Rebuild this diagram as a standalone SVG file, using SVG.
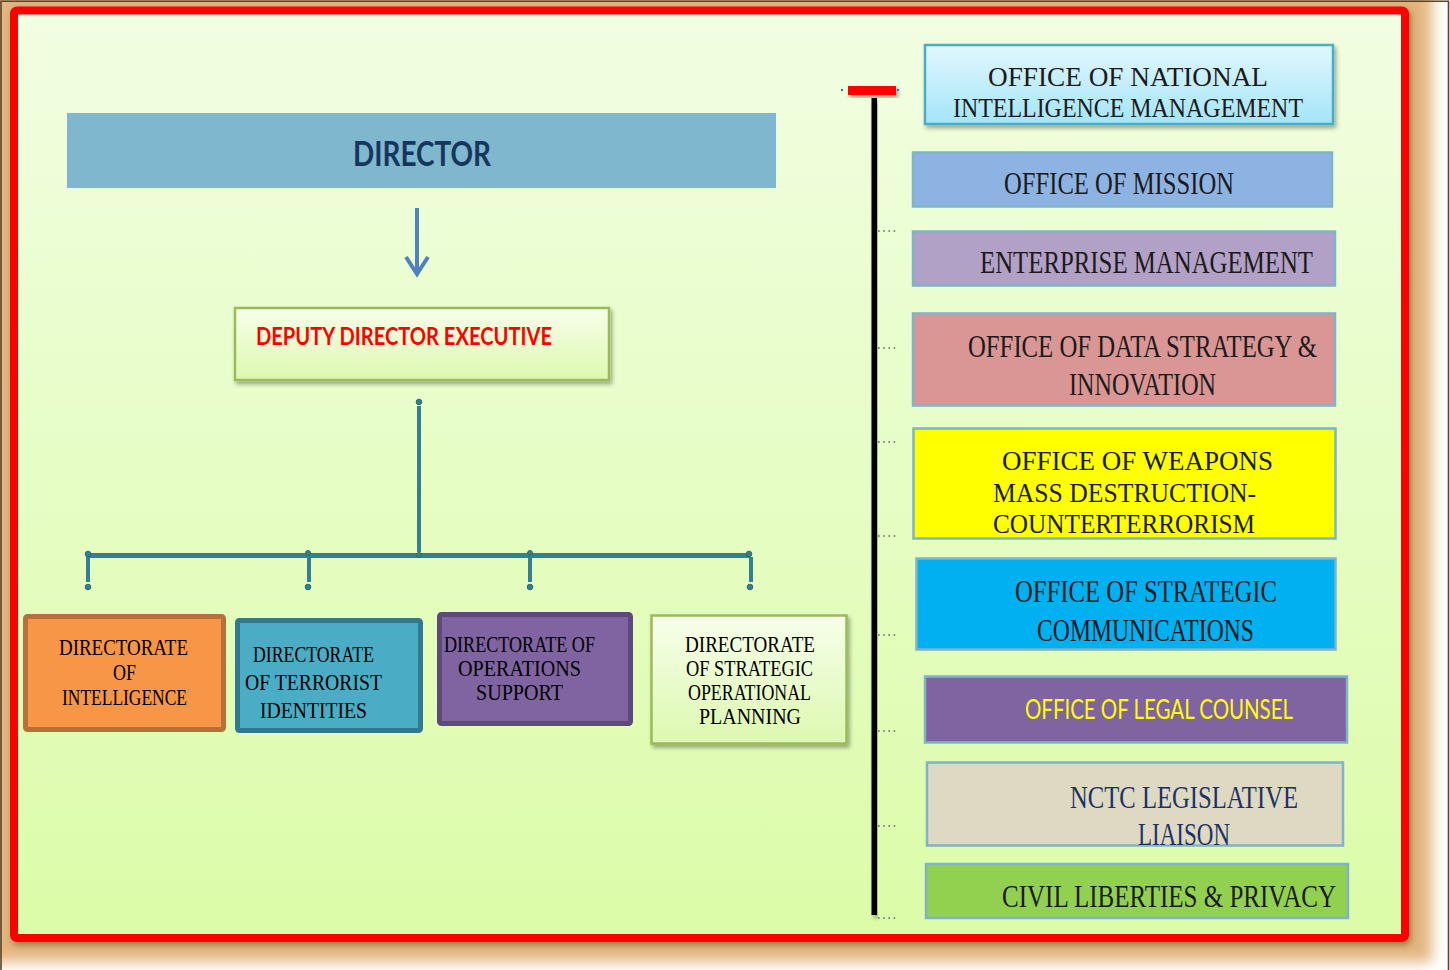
<svg xmlns="http://www.w3.org/2000/svg" width="1450" height="970" viewBox="0 0 1450 970">
  <defs>
    <linearGradient id="panel" x1="0" y1="0" x2="0" y2="1">
      <stop offset="0" stop-color="#F1FEE2"/>
      <stop offset="1" stop-color="#DCFCA8"/>
    </linearGradient>
    <linearGradient id="paleGreen" x1="0" y1="0" x2="0" y2="1">
      <stop offset="0" stop-color="#F6FFEA"/>
      <stop offset="1" stop-color="#DDF8B0"/>
    </linearGradient>
    <linearGradient id="paleCyan" x1="0" y1="0" x2="0" y2="1">
      <stop offset="0" stop-color="#E2F7FE"/>
      <stop offset="1" stop-color="#A3E5F8"/>
    </linearGradient>
    <filter id="soft" x="-5%" y="-5%" width="110%" height="110%">
      <feGaussianBlur stdDeviation="7"/>
    </filter>
    <filter id="shadow" x="-10%" y="-20%" width="120%" height="150%">
      <feDropShadow dx="2" dy="3" stdDeviation="2" flood-color="#000" flood-opacity="0.35"/>
    </filter>
    <filter id="frameShadow" x="-5%" y="-5%" width="110%" height="110%">
      <feDropShadow dx="2" dy="3" stdDeviation="3" flood-color="#6B3F10" flood-opacity="0.55"/>
    </filter>
    <style>
      .serif { font-family: "Liberation Serif", "Times New Roman", serif; fill: #1C1A1A; }
      .sans { font-family: Lato, "Open Sans", "Liberation Sans", sans-serif; font-weight: bold; }
      .dir { font-size: 23px; fill: #000; }
      .off { font-size: 31px; }
      .tight { font-size: 28px; }
      .navy { fill: #1F3167; }
      .tree { stroke: #357F93; fill: none; }
      .knob { fill: #357F93; stroke: #2A6878; stroke-width: 1; }
      .tick { stroke: #666; stroke-width: 1.6; stroke-dasharray: 1.6 3.6; }
      .tickEnd { fill: #2E75B6; }
      .officeBox { stroke: #7FB3C8; stroke-width: 2.5; }
    </style>
  </defs>

  <!-- page backdrop -->
  <rect x="0" y="0" width="1450" height="970" fill="#FFFFFF"/>
  <rect x="-20" y="-20" width="1452" height="982" fill="#E3B57F" filter="url(#soft)"/>
  <rect x="0" y="0" width="1420" height="945" fill="#E3B57F"/>
  <path d="M1 970 V1.2 H1448.5 V970" fill="none" stroke="#5A4428" stroke-width="1.6"/>

  <!-- main panel with red frame -->
  <rect x="14" y="10.5" width="1391" height="927.5" rx="3" fill="url(#panel)" stroke="#FF0000" stroke-width="8" filter="url(#frameShadow)"/>

  <!-- connectors -->
  <g id="connectors">
    <!-- director to deputy -->
    <line x1="417" y1="208" x2="417" y2="273" stroke="#4F81BD" stroke-width="4"/>
    <polyline points="406,257 417,274 428,257" fill="none" stroke="#4F81BD" stroke-width="4" stroke-linejoin="miter"/>

    <!-- deputy to directorates -->
    <line class="tree" x1="419" y1="406" x2="419" y2="552" stroke-width="4"/>
    <line class="tree" x1="88" y1="555.5" x2="750" y2="555.5" stroke-width="5"/>
    <line class="tree" x1="88" y1="557" x2="88" y2="582" stroke-width="4"/>
    <line class="tree" x1="309" y1="557" x2="309" y2="582" stroke-width="4"/>
    <line class="tree" x1="530" y1="557" x2="530" y2="582" stroke-width="4"/>
    <line class="tree" x1="751" y1="557" x2="751" y2="582" stroke-width="4"/>
    <circle class="knob" cx="419" cy="402" r="2.8"/>
    <circle class="knob" cx="88" cy="554" r="2.8"/>
    <circle class="knob" cx="308" cy="553" r="2.5"/>
    <circle class="knob" cx="419" cy="555" r="2.5"/>
    <circle class="knob" cx="530" cy="553" r="2.5"/>
    <circle class="knob" cx="749" cy="554" r="2.8"/>
    <circle class="knob" cx="88" cy="587" r="2.8"/>
    <circle class="knob" cx="308" cy="587" r="2.8"/>
    <circle class="knob" cx="530" cy="587" r="2.8"/>
    <circle class="knob" cx="750" cy="587" r="2.8"/>

    <!-- office spine -->
    <rect x="848" y="86" width="48" height="9" fill="#FF0000" filter="url(#shadow)"/>
    <circle class="tickEnd" cx="842" cy="90" r="1.2"/>
    <circle class="tickEnd" cx="898" cy="90" r="1.2"/>
    <rect x="871.5" y="98" width="5.5" height="817" fill="#000" filter="url(#shadow)"/>
    <g>
      <line class="tick" x1="878" y1="231" x2="898" y2="231"/>
      <line class="tick" x1="878" y1="348" x2="898" y2="348"/>
      <line class="tick" x1="878" y1="442" x2="898" y2="442"/>
      <line class="tick" x1="878" y1="536" x2="898" y2="536"/>
      <line class="tick" x1="878" y1="635" x2="898" y2="635"/>
      <line class="tick" x1="878" y1="731" x2="898" y2="731"/>
      <line class="tick" x1="878" y1="826" x2="898" y2="826"/>
      <line class="tick" x1="878" y1="918" x2="898" y2="918"/>
    </g>
  </g>

  <!-- leadership -->
  <g id="director">
    <rect x="67" y="113" width="709" height="75" fill="#7FB8CE"/>
    <text class="sans" x="353" y="166" font-size="35" fill="#17365D" textLength="138" lengthAdjust="spacingAndGlyphs">DIRECTOR</text>
  </g>

  <g id="deputy-director-executive">
    <rect x="235" y="308" width="374" height="72" fill="url(#paleGreen)" stroke="#9BBB59" stroke-width="2.5" filter="url(#shadow)"/>
    <text class="sans" x="256" y="345" font-size="24" fill="#FF0000" textLength="296" lengthAdjust="spacingAndGlyphs">DEPUTY DIRECTOR EXECUTIVE</text>
  </g>

  <!-- directorates -->
  <g id="directorate-intelligence">
    <rect x="25.5" y="616.5" width="198" height="113" rx="2" fill="#F79646" stroke="#B8703A" stroke-width="5"/>
    <text class="serif dir" x="59" y="655" textLength="129" lengthAdjust="spacingAndGlyphs">DIRECTORATE</text>
    <text class="serif dir" x="113" y="680" textLength="23" lengthAdjust="spacingAndGlyphs">OF</text>
    <text class="serif dir" x="62" y="705" textLength="125" lengthAdjust="spacingAndGlyphs">INTELLIGENCE</text>
  </g>

  <g id="directorate-terrorist-identities">
    <rect x="237.5" y="620.5" width="183" height="110" rx="2" fill="#4BACC6" stroke="#31798E" stroke-width="5"/>
    <text class="serif dir" x="253" y="662" textLength="121" lengthAdjust="spacingAndGlyphs">DIRECTORATE</text>
    <text class="serif dir" x="245" y="690" textLength="137" lengthAdjust="spacingAndGlyphs">OF TERRORIST</text>
    <text class="serif dir" x="260" y="718" textLength="107" lengthAdjust="spacingAndGlyphs">IDENTITIES</text>
  </g>

  <g id="directorate-operations-support">
    <rect x="439.5" y="614.5" width="191" height="109" rx="2" fill="#8064A2" stroke="#5F497A" stroke-width="5"/>
    <text class="serif dir" x="444" y="652" textLength="151" lengthAdjust="spacingAndGlyphs">DIRECTORATE OF</text>
    <text class="serif dir" x="458" y="676" textLength="123" lengthAdjust="spacingAndGlyphs">OPERATIONS</text>
    <text class="serif dir" x="476" y="700" textLength="87" lengthAdjust="spacingAndGlyphs">SUPPORT</text>
  </g>

  <g id="directorate-strategic-operational-planning">
    <rect x="651.5" y="615.5" width="195" height="128" fill="url(#paleGreen)" stroke="#9BBB59" stroke-width="2.5" filter="url(#shadow)"/>
    <text class="serif dir" x="685" y="652" textLength="130" lengthAdjust="spacingAndGlyphs">DIRECTORATE</text>
    <text class="serif dir" x="686" y="676" textLength="127" lengthAdjust="spacingAndGlyphs">OF STRATEGIC</text>
    <text class="serif dir" x="688" y="700" textLength="123" lengthAdjust="spacingAndGlyphs">OPERATIONAL</text>
    <text class="serif dir" x="699" y="724" textLength="102" lengthAdjust="spacingAndGlyphs">PLANNING</text>
  </g>

  <!-- offices -->
  <g id="office-national-intelligence-management">
    <rect x="925" y="45" width="408" height="79" fill="url(#paleCyan)" stroke="#4BACC6" stroke-width="2.5" filter="url(#shadow)"/>
    <text class="serif tight" x="988" y="86" textLength="280" lengthAdjust="spacingAndGlyphs">OFFICE OF NATIONAL</text>
    <text class="serif tight" x="953" y="117" textLength="350" lengthAdjust="spacingAndGlyphs">INTELLIGENCE MANAGEMENT</text>
  </g>

  <g id="office-mission">
    <rect class="officeBox" x="913" y="152.5" width="419" height="54" fill="#8DB3E2"/>
    <text class="serif off" x="1004" y="194" textLength="230" lengthAdjust="spacingAndGlyphs">OFFICE  OF  MISSION</text>
  </g>

  <g id="enterprise-management">
    <rect class="officeBox" x="913" y="231.5" width="422" height="54" fill="#B2A1C7"/>
    <text class="serif off" x="980" y="273" textLength="333" lengthAdjust="spacingAndGlyphs">ENTERPRISE  MANAGEMENT</text>
  </g>

  <g id="office-data-strategy-innovation">
    <rect class="officeBox" x="913" y="313.5" width="422" height="92" fill="#D99694"/>
    <text class="serif off" x="968" y="357" textLength="349" lengthAdjust="spacingAndGlyphs">OFFICE OF DATA STRATEGY &amp;</text>
    <text class="serif off" x="1069" y="395" textLength="147" lengthAdjust="spacingAndGlyphs">INNOVATION</text>
  </g>

  <g id="office-wmd-counterterrorism">
    <rect class="officeBox" x="913.5" y="428.5" width="422" height="110" fill="#FFFF00"/>
    <text class="serif tight" x="1002" y="470" textLength="271" lengthAdjust="spacingAndGlyphs">OFFICE OF WEAPONS</text>
    <text class="serif tight" x="993" y="502" textLength="263" lengthAdjust="spacingAndGlyphs">MASS DESTRUCTION-</text>
    <text class="serif tight" x="993" y="533" textLength="262" lengthAdjust="spacingAndGlyphs">COUNTERTERRORISM</text>
  </g>

  <g id="office-strategic-communications">
    <rect class="officeBox" x="916.5" y="558.5" width="419" height="91" fill="#00B0F0"/>
    <text class="serif off" x="1015" y="602" textLength="262" lengthAdjust="spacingAndGlyphs">OFFICE  OF  STRATEGIC</text>
    <text class="serif off" x="1037" y="641" textLength="217" lengthAdjust="spacingAndGlyphs">COMMUNICATIONS</text>
  </g>

  <g id="office-legal-counsel">
    <rect class="officeBox" x="925" y="676.5" width="422" height="66" fill="#8064A2"/>
    <text class="sans" x="1025" y="719" font-size="27" fill="#FFFF00" style="font-weight:normal" textLength="268" lengthAdjust="spacingAndGlyphs">OFFICE OF LEGAL COUNSEL</text>
  </g>

  <g id="nctc-legislative-liaison">
    <rect class="officeBox" x="927" y="762.5" width="416" height="83" fill="#DDD9C3"/>
    <text class="serif off navy" x="1070" y="808" textLength="228" lengthAdjust="spacingAndGlyphs">NCTC LEGISLATIVE</text>
    <text class="serif off navy" x="1138" y="845" textLength="92" lengthAdjust="spacingAndGlyphs">LIAISON</text>
  </g>

  <g id="civil-liberties-privacy">
    <rect class="officeBox" x="926" y="864" width="422" height="54" fill="#92D050"/>
    <text class="serif off" x="1002" y="907" textLength="334" lengthAdjust="spacingAndGlyphs">CIVIL  LIBERTIES  &amp;  PRIVACY</text>
  </g>
</svg>
